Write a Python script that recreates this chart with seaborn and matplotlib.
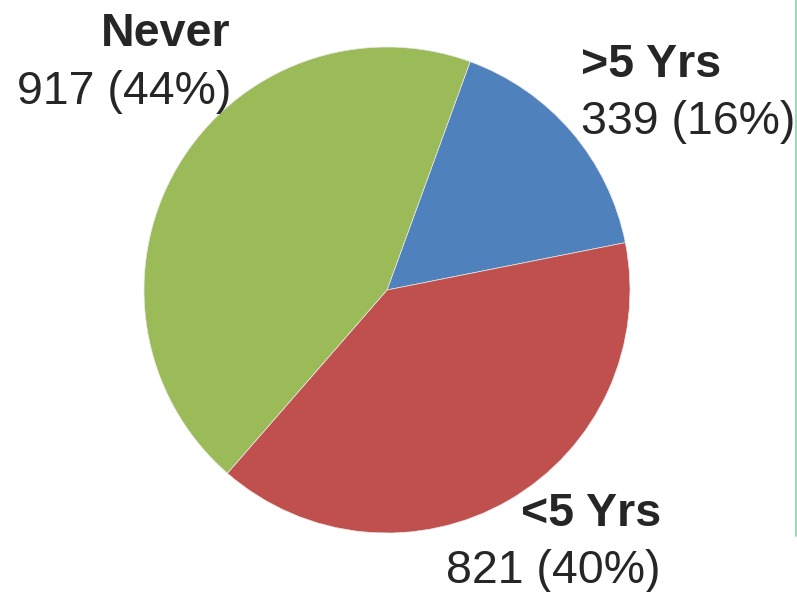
import matplotlib
matplotlib.use("Agg")
import matplotlib.pyplot as plt
import seaborn as sns
from matplotlib.lines import Line2D

categories = [">5 Yrs", "<5 Yrs", "Never"]
counts = [339, 821, 917]
percent_labels = ["16%", "40%", "44%"]
colors = ["#4F81BD", "#C0504D", "#9BBB59"]

sns.set_theme(style="white")
plt.rcParams["font.family"] = ["Liberation Sans", "DejaVu Sans"]

W, H = 797, 592
fig = plt.figure(figsize=(W / 100, H / 100), dpi=100)
ax = fig.add_axes([0, 0, 1, 1])

ax.pie(counts, colors=colors, startangle=70, counterclock=False,
       center=(387, H - 290), radius=243, frame=True,
       wedgeprops=dict(linewidth=0.5, edgecolor="#e8e8e8"))
ax.set_xlim(0, W)
ax.set_ylim(0, H)
ax.axis("off")

txt_color = "#262626"
fs = 33.5
# label placement: (x, name baseline, value baseline, ha)
placements = {
    ">5 Yrs": (581, 77, 134, "left"),
    "<5 Yrs": (661, 526, 583, "right"),
    "Never": (231, 46, 104, "right"),
}
for cat, n, p in zip(categories, counts, percent_labels):
    x, yb1, yb2, ha = placements[cat]
    ax.text(x, H - yb1, cat, ha=ha, va="baseline", fontsize=fs,
            fontweight="bold", color=txt_color)
    ax.text(x, H - yb2, f"{n} ({p})", ha=ha, va="baseline", fontsize=fs,
            color=txt_color)

fig.add_artist(Line2D([796 / W, 796 / W], [1, 1 - 536 / H],
                      transform=fig.transFigure, color="#86D4A8", linewidth=1.2))

fig.savefig("out.png", dpi=100)
